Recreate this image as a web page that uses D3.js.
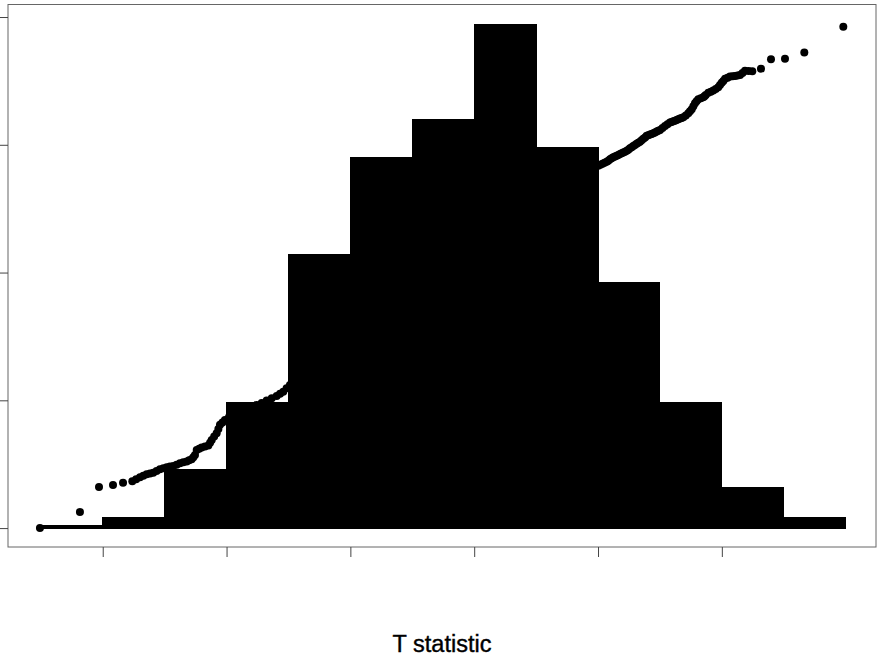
<!DOCTYPE html>
<html>
<head>
<meta charset="utf-8">
<script src="https://cdn.jsdelivr.net/npm/d3@7/dist/d3.min.js"></script>
<style>
  html, body { margin: 0; padding: 0; background: #fff; }
  svg { display: block; }
</style>
</head>
<body>
<svg id="chart" width="878" height="658"></svg>
<script>
// Histogram of 1000 T statistics (bin width 0.5), with the sorted
// statistics overlaid as a rescaled quantile trace.
const binEdges  = [-3.5, -3, -2.5, -2, -1.5, -1, -0.5, 0, 0.5, 1, 1.5, 2, 2.5, 3];
const binCounts = [1, 4, 23, 49, 107, 145, 160, 197, 149, 96, 49, 16, 4];

// Sorted T statistics paired with their quantile position (count units).
const lowerTail = [
  [-3.507, 0.0], [-3.184, 6.3], [-3.030, 16.1], [-2.917, 16.9], [-2.836, 17.7],
  [-2.761, 18.3], [-2.730, 19.1], [-2.699, 19.9], [-2.672, 20.5], [-2.645, 21.1],
  [-2.618, 21.4], [-2.592, 21.7], [-2.565, 22.3], [-2.538, 23.0], [-2.510, 23.4],
  [-2.483, 23.8], [-2.457, 24.1], [-2.430, 24.3], [-2.403, 24.8], [-2.376, 25.4],
  [-2.349, 25.8], [-2.322, 26.1], [-2.302, 26.5], [-2.282, 26.9], [-2.268, 27.7],
  [-2.255, 28.6], [-2.241, 30.6], [-2.221, 31.0], [-2.201, 31.5], [-2.174, 31.9],
  [-2.147, 32.3], [-2.133, 33.4], [-2.120, 34.5], [-2.100, 35.8], [-2.080, 37.1],
  [-2.066, 38.8], [-2.053, 40.4], [-2.033, 41.3], [-2.013, 42.3], [-1.980, 43.5],
  [-1.946, 44.9], [-1.918, 45.5], [-1.891, 46.2], [-1.864, 46.6], [-1.837, 46.9],
  [-1.797, 47.5], [-1.757, 48.2], [-1.716, 49.0], [-1.676, 49.9], [-1.635, 50.8],
  [-1.595, 51.7], [-1.568, 52.6], [-1.542, 53.4], [-1.515, 54.7], [-1.488, 56.0],
  [-1.461, 57.0], [-1.434, 58.0]
];
const centre = [
  [-1.326, 61.1], [-1.165, 66.5], [-1.003, 71.6], [-0.842, 76.7], [-0.680, 82.2],
  [-0.519, 87.3], [-0.357, 93.2], [-0.196, 98.3], [-0.002, 104.1], [0.208, 111.6],
  [0.370, 117.5], [0.531, 123.7], [0.693, 130.4], [0.854, 136.3]
];
const upperTail = [
  [1.002, 141.8], [1.019, 142.2], [1.036, 142.6], [1.053, 143.0], [1.070, 143.4],
  [1.083, 143.8], [1.097, 144.3], [1.110, 144.7], [1.123, 145.1], [1.137, 145.4],
  [1.151, 145.7], [1.164, 146.0], [1.178, 146.4], [1.191, 146.7], [1.204, 147.0],
  [1.218, 147.3], [1.232, 147.7], [1.245, 148.1], [1.258, 148.6], [1.272, 149.0],
  [1.285, 149.5], [1.298, 149.9], [1.312, 150.4], [1.325, 150.8], [1.339, 151.2],
  [1.352, 151.8], [1.366, 152.4], [1.380, 152.9], [1.393, 153.5], [1.406, 153.7],
  [1.420, 154.0], [1.433, 154.2], [1.446, 154.5], [1.460, 154.8], [1.474, 155.2],
  [1.487, 155.5], [1.501, 155.8], [1.521, 156.6], [1.541, 157.4], [1.561, 158.0],
  [1.581, 158.7], [1.594, 158.9], [1.608, 159.2], [1.621, 159.4], [1.635, 159.7],
  [1.648, 160.0], [1.662, 160.3], [1.675, 160.5], [1.689, 160.8], [1.709, 161.5],
  [1.729, 162.3], [1.743, 163.1], [1.757, 163.9], [1.770, 165.1], [1.783, 166.3],
  [1.796, 167.0], [1.810, 167.8], [1.830, 168.2], [1.850, 168.6], [1.860, 169.0],
  [1.870, 169.5], [1.891, 170.4], [1.911, 170.8], [1.931, 171.2], [1.951, 171.8],
  [1.971, 172.5], [1.985, 173.4], [1.999, 174.3], [2.012, 175.0], [2.026, 175.8],
  [2.046, 176.2], [2.066, 176.7], [2.087, 176.8], [2.107, 176.9], [2.127, 177.1],
  [2.147, 177.3], [2.167, 178.1], [2.187, 179.0], [2.216, 178.9], [2.246, 178.8],
  [2.316, 179.8], [2.397, 183.5], [2.510, 183.7], [2.666, 186.1], [2.981, 196.2]
];

const xTicks = [-3, -2, -1, 0, 1, 2];
const yTicks = [0, 50, 100, 150, 200];
const xTitle = "T statistic";

// Plot region
const plot = { left: 8, right: 876, top: 4.5, bottom: 547 };

const svg = d3.select("#chart");

const x = d3.scaleLinear().domain([-3.765, 3.245]).range([plot.left, plot.right]);
const y = d3.scaleLinear().domain([-7.4, 204.9]).range([plot.bottom, plot.top]);

// Histogram bars
const bins = binCounts.map((c, i) => ({ x0: binEdges[i], x1: binEdges[i + 1], count: c }));
svg.append("g")
  .attr("shape-rendering", "crispEdges")
  .selectAll("rect")
  .data(bins)
  .join("rect")
  .attr("x", d => x(d.x0))
  .attr("width", d => x(d.x1) - x(d.x0))
  .attr("y", d => y(d.count))
  .attr("height", d => y(0) - y(d.count))
  .attr("fill", "#000")
  .attr("stroke", "#000")
  .attr("stroke-width", 1);

// Quantile trace
const pts = lowerTail.concat(centre, upperTail).map(([t, q]) => ({ t, q }));
svg.append("g")
  .selectAll("circle")
  .data(pts)
  .join("circle")
  .attr("cx", d => x(d.t))
  .attr("cy", d => y(d.q))
  .attr("r", 4)
  .attr("fill", "#000");

// Box around the plot region
svg.append("rect")
  .attr("x", plot.left)
  .attr("y", plot.top)
  .attr("width", plot.right - plot.left)
  .attr("height", plot.bottom - plot.top)
  .attr("fill", "none")
  .attr("stroke", "#666")
  .attr("stroke-width", 1);

// Axes: ticks only, no labels
const xAxis = svg.append("g")
  .attr("transform", `translate(0,${plot.bottom})`)
  .call(d3.axisBottom(x).tickValues(xTicks).tickSize(10).tickFormat(""));
const yAxis = svg.append("g")
  .attr("transform", `translate(${plot.left},0)`)
  .call(d3.axisLeft(y).tickValues(yTicks).tickSize(8).tickFormat(""));
[xAxis, yAxis].forEach(g => {
  g.select(".domain").remove();
  g.selectAll(".tick line").attr("stroke", "#444").attr("stroke-width", 1);
});

// Axis title
svg.append("text")
  .attr("x", (plot.left + plot.right) / 2)
  .attr("y", 652)
  .attr("text-anchor", "middle")
  .attr("font-family", "'Liberation Sans', Arial, Helvetica, sans-serif")
  .attr("font-size", 23.5)
  .attr("fill", "#000")
  .attr("stroke", "#000")
  .attr("stroke-width", 0.4)
  .text(xTitle);
</script>
</body>
</html>
